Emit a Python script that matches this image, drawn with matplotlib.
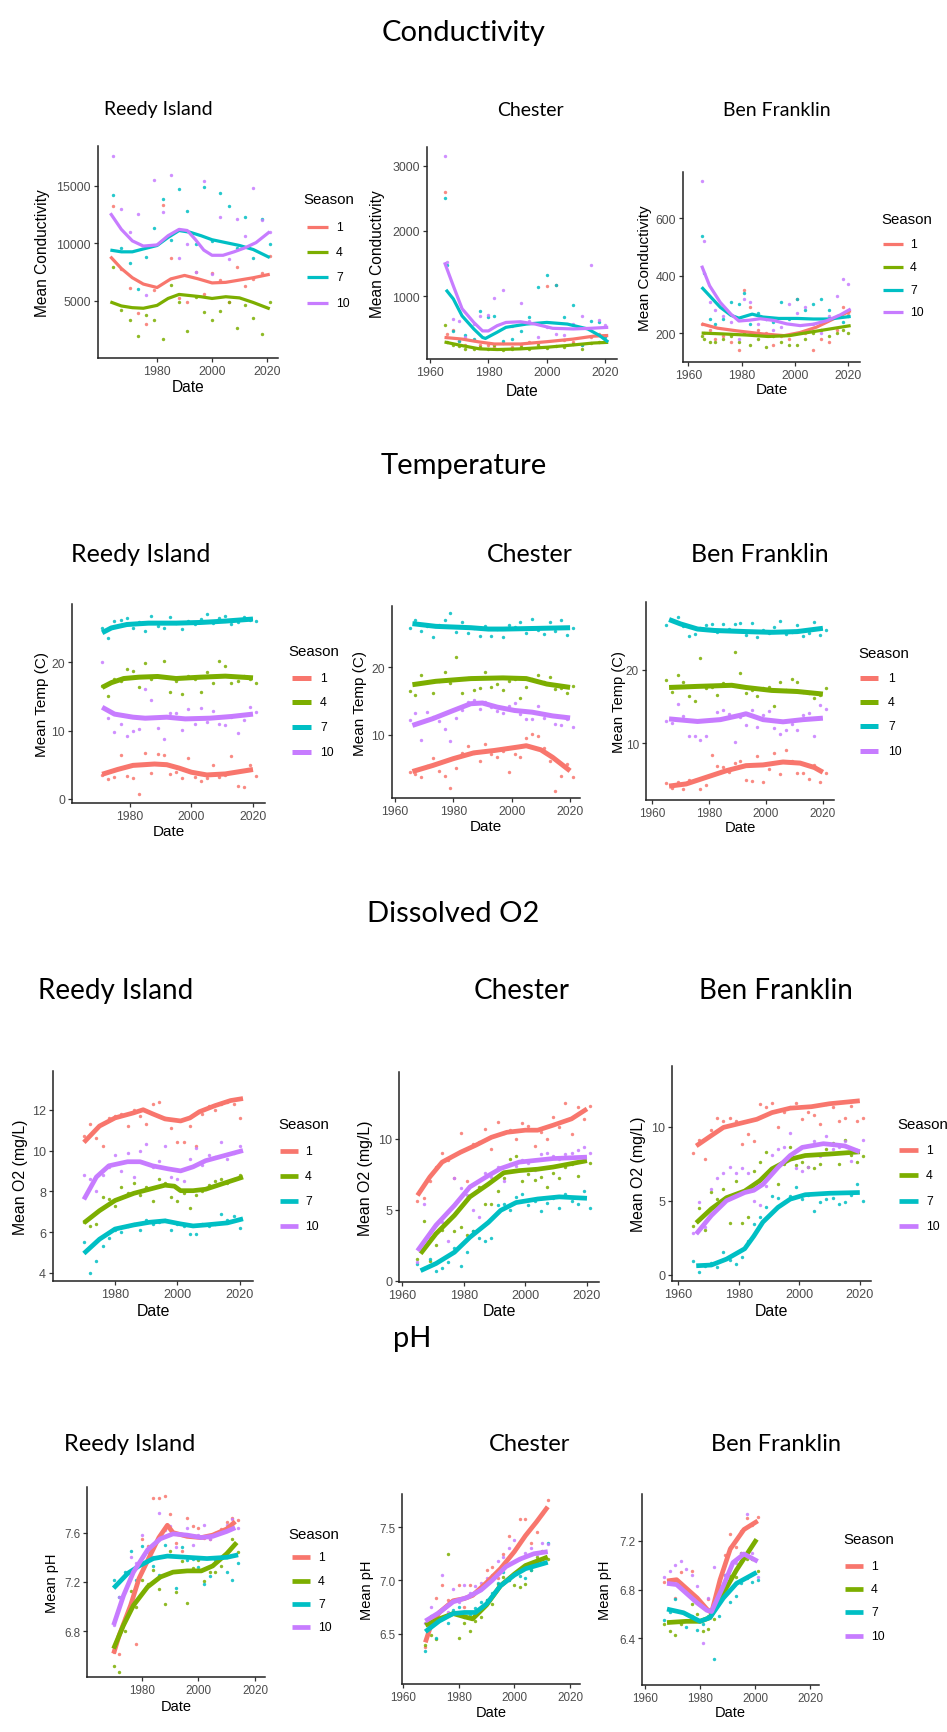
import matplotlib.pyplot as plt
from matplotlib.lines import Line2D

W, H = 947, 1733
seasons = [1, 4, 7, 10]
season_colors = ['#F8766D', '#7CAE00', '#00BFC4', '#C77CFF']

# ---------------- Conductivity ----------------
cond_reedy_fit_x = {
    1: [1963, 1967, 1971, 1975, 1980, 1985, 1990, 1995, 2000, 2005, 2010, 2015, 2021],
    4: [1963, 1967, 1971, 1975, 1980, 1984, 1988, 1992, 1996, 2000, 2005, 2010, 2015, 2021],
    7: [1963, 1967, 1971, 1975, 1980, 1984, 1988, 1992, 1996, 2000, 2005, 2010, 2015, 2021],
    10: [1963, 1967, 1971, 1975, 1980, 1984, 1988, 1991, 1994, 1997, 2000, 2004, 2008, 2012, 2016, 2021],
}
cond_reedy_fit_y = {
    1: [8830, 7800, 7000, 6450, 6150, 6900, 7200, 6900, 6550, 6600, 6800, 7000, 7300],
    4: [4900, 4550, 4400, 4350, 4600, 5200, 5550, 5450, 5350, 5200, 5350, 5250, 4850, 4300],
    7: [9400, 9250, 9250, 9500, 9800, 10500, 11100, 10950, 10650, 10300, 10050, 9800, 9450, 8750],
    10: [12600, 11200, 10200, 9750, 9850, 10650, 11200, 11100, 10300, 9400, 8950, 8950, 9250, 9600, 10050, 11000],
}
cond_reedy_pt_x = [1964, 1967, 1970, 1973, 1976, 1979, 1982, 1985, 1988, 1991,
                   1994, 1997, 2000, 2003, 2006, 2009, 2012, 2015, 2018, 2021]
cond_reedy_pt_y = {
    1: [13200, 7800, 6100, 3900, 3000, 5900, 13300, 8700, 5200, 4900, 7500, 5600, 7400, 6800, 4900, 7900, 6300, 6900, 7400, 8900],
    4: [7900, 4200, 3300, 1900, 3800, 3300, 1700, 6400, 4900, 2400, 5300, 4000, 3300, 4100, 4900, 2600, 4600, 3500, 2100, 4900],
    7: [14200, 9600, 8300, 6000, 8800, 11300, 13800, 10300, 14700, 12800, 9900, 14900, 10200, 14400, 13200, 9600, 12300, 8700, 12100, 9900],
    10: [17600, 13000, 11000, 12500, 5500, 15500, 12700, 15900, 8700, 9900, 7500, 15400, 7300, 12300, 8600, 12100, 10600, 14800, 12000, 11000],
}

cond_chester_fit_x = {
    1: [1965, 1971, 1977, 1982, 1991, 2000, 2009, 2016, 2021],
    4: [1965, 1971, 1977, 1983, 1991, 2000, 2009, 2016, 2021],
    7: [1965.5, 1968, 1971, 1975, 1978, 1979, 1983, 1986, 1993, 2000, 2007, 2014, 2018, 2021],
    10: [1965, 1968, 1971, 1975, 1978, 1980, 1983, 1986, 1991, 1996, 2002, 2009, 2015, 2021],
}
cond_chester_fit_y = {
    1: [370, 345, 300, 270, 270, 305, 345, 390, 400],
    4: [300, 245, 195, 185, 195, 220, 255, 285, 295],
    7: [1100, 960, 700, 500, 370, 355, 450, 525, 575, 600, 575, 500, 400, 300],
    10: [1520, 1160, 810, 600, 470, 470, 550, 600, 610, 575, 510, 500, 510, 525],
}
cond_chester_pt_x = [1965, 1966, 1968, 1970, 1972, 1975, 1977, 1980, 1982, 1985, 1988,
                     1991, 1994, 1997, 2000, 2003, 2006, 2009, 2012, 2015, 2018, 2020]
cond_chester_pt_y = {
    1: [2600, 430, 480, 320, 260, 330, 250, 260, 230, 290, 220, 260, 300, 280, 1160, 1180, 330, 300, 250, 380, 420, 390],
    4: [560, 300, 260, 240, 200, 190, 230, 200, 250, 180, 190, 220, 200, 260, 210, 240, 230, 270, 200, 280, 300, 330],
    7: [2500, 1480, 470, 310, 400, 340, 780, 680, 700, 320, 350, 470, 690, 1140, 1320, 1180, 690, 860, 250, 620, 610, 380],
    10: [3150, 1530, 660, 620, 380, 580, 700, 710, 980, 1090, 550, 900, 620, 370, 530, 420, 410, 580, 700, 1480, 640, 560],
}

cond_benf_fit_x = {
    1: [1965, 1971, 1978, 1988, 1996, 2002, 2008, 2014, 2021],
    4: [1965, 1973, 1982, 1990, 1998, 2005, 2013, 2021],
    7: [1965, 1968, 1972, 1976, 1979, 1984, 1988, 1994, 2001, 2007, 2013, 2021],
    10: [1965, 1968, 1972, 1976, 1979, 1983, 1987, 1992, 1997, 2002, 2007, 2012, 2017, 2021],
}
cond_benf_fit_y = {
    1: [232, 217, 208, 197, 191, 202, 220, 247, 278],
    4: [200, 197, 193, 188, 191, 202, 214, 226],
    7: [360, 330, 290, 262, 252, 266, 256, 251, 251, 249, 249, 258],
    10: [435, 365, 307, 266, 242, 245, 250, 244, 232, 226, 231, 243, 263, 284],
}
cond_benf_pt_x = [1965, 1966, 1968, 1970, 1973, 1976, 1979, 1981, 1983, 1986, 1989,
                  1992, 1995, 1998, 2001, 2004, 2007, 2010, 2013, 2016, 2018, 2020]
cond_benf_pt_y = {
    1: [230, 200, 210, 180, 190, 170, 140, 350, 290, 210, 200, 160, 190, 180, 320, 200, 140, 180, 170, 210, 290, 270],
    4: [190, 180, 170, 170, 180, 190, 170, 200, 160, 180, 150, 190, 170, 160, 160, 180, 200, 210, 190, 200, 210, 200],
    7: [540, 410, 250, 230, 250, 310, 300, 340, 230, 270, 250, 240, 310, 250, 320, 280, 300, 320, 280, 260, 240, 260],
    10: [730, 520, 310, 280, 260, 240, 180, 320, 310, 230, 250, 210, 220, 300, 270, 290, 230, 200, 260, 330, 390, 370],
}

# ---------------- Temperature ----------------
temp_reedy_fit_x = {
    1: [1971, 1976, 1981, 1988, 1992, 1996, 2000, 2005, 2011, 2020],
    4: [1971, 1974, 1978, 1983, 1989, 1995, 2003, 2011, 2020],
    7: [1971, 1974, 1979, 1986, 1995, 2003, 2011, 2020],
    10: [1971, 1975, 1981, 1985, 1992, 1998, 2006, 2013, 2020],
}
temp_reedy_fit_y = {
    1: [3.6, 4.3, 4.9, 5.1, 5.0, 4.5, 3.9, 3.5, 3.65, 4.3],
    4: [16.3, 17.0, 17.6, 17.8, 17.9, 17.6, 17.8, 17.95, 17.7],
    7: [24.3, 25.0, 25.5, 25.7, 25.7, 25.8, 26.0, 26.3],
    10: [13.4, 12.4, 11.95, 11.8, 11.95, 11.7, 11.8, 12.05, 12.4],
}
temp_reedy_pt_x = [1971, 1973, 1975, 1977, 1979, 1981, 1983, 1985, 1987, 1989, 1991, 1993, 1995,
                   1997, 1999, 2001, 2003, 2005, 2007, 2009, 2011, 2013, 2015, 2017, 2019, 2021]
temp_reedy_pt_y = {
    1: [3.5, 2.9, 3.2, 6.4, 3.3, 3.0, 0.7, 6.7, 3.8, 6.6, 6.4, 3.7, 3.9, 3.1, 6.0, 3.2, 2.6, 3.0, 4.9, 3.2, 3.5, 6.2, 1.9, 1.8, 5.0, 3.4],
    4: [16.5, 15.1, 17.5, 17.3, 19.0, 18.7, 16.3, 19.8, 17.5, 17.9, 20.1, 15.6, 17.2, 15.4, 18.0, 17.6, 15.6, 18.5, 17.0, 20.2, 19.4, 17.0, 17.3, 18.0, 17.5, 16.9],
    7: [25.0, 23.6, 26.0, 26.2, 26.5, 25.0, 25.9, 24.6, 26.7, 25.3, 25.0, 26.6, 25.7, 24.9, 26.0, 25.6, 26.3, 27.1, 25.7, 26.4, 26.7, 25.6, 25.8, 26.6, 26.1, 26.0],
    10: [20.0, 11.9, 9.8, 10.9, 9.2, 10.0, 10.2, 16.0, 14.4, 10.4, 8.8, 12.6, 12.5, 10.1, 13.1, 11.0, 13.3, 11.3, 12.8, 11.0, 10.8, 12.0, 9.6, 11.6, 13.4, 12.7],
}

temp_chester_fit_x = {
    1: [1966, 1973, 1980, 1987, 1994, 2002, 2005, 2010, 2014, 2020],
    4: [1966, 1974, 1986, 1997, 2005, 2012, 2020],
    7: [1966, 1974, 1986, 1992, 1997, 2009, 2020],
    10: [1966, 1973, 1980, 1986, 1990, 1995, 2001, 2007, 2014, 2020],
}
temp_chester_fit_y = {
    1: [4.6, 5.5, 6.5, 7.35, 7.7, 8.2, 8.4, 7.8, 6.7, 4.7],
    4: [17.4, 17.9, 18.3, 18.4, 18.3, 17.5, 17.0],
    7: [26.4, 26.0, 25.8, 25.6, 25.6, 25.7, 25.8],
    10: [11.4, 12.4, 13.6, 14.6, 14.7, 14.1, 13.6, 13.35, 12.8, 12.5],
}
temp_chester_pt_x = [1965, 1967, 1969, 1971, 1973, 1975, 1977, 1979, 1981, 1983, 1985, 1987, 1989, 1991, 1993,
                     1995, 1997, 1999, 2001, 2003, 2005, 2007, 2009, 2011, 2013, 2015, 2017, 2019, 2021]
temp_chester_pt_y = {
    1: [4.5, 4.3, 3.8, 5.4, 6.6, 4.7, 3.9, 2.2, 5.1, 7.3, 8.4, 7.3, 6.2, 8.6, 7.2, 6.8, 7.6, 4.6, 7.2, 6.7, 9.6, 10.2, 9.8, 8.0, 6.1, 1.8, 4.0, 5.7, 3.8],
    4: [16.5, 15.9, 18.8, 17.8, 16.2, 17.9, 19.3, 17.6, 21.5, 16.2, 18.4, 16.6, 16.9, 19.3, 17.0, 17.5, 16.6, 18.0, 18.3, 15.5, 17.0, 18.3, 18.8, 17.8, 18.6, 16.8, 16.9, 16.2, 17.2],
    7: [25.8, 26.9, 25.3, 26.0, 24.4, 26.2, 27.0, 28.0, 25.1, 26.7, 25.0, 25.7, 24.6, 26.1, 24.6, 25.6, 24.4, 26.2, 25.9, 26.6, 25.0, 27.1, 25.4, 24.9, 26.6, 25.3, 26.9, 24.7, 25.7],
    10: [12.2, 13.2, 9.3, 13.4, 12.7, 12.0, 10.9, 9.1, 12.5, 13.6, 14.9, 15.2, 13.8, 14.9, 14.1, 13.5, 13.2, 14.2, 14.7, 13.1, 12.4, 12.3, 14.2, 12.5, 13.0, 11.6, 11.5, 12.4, 11.2],
}

temp_benf_fit_x = {
    1: [1966, 1972, 1979, 1986, 1993, 1999, 2006, 2012, 2017, 2020],
    4: [1966, 1976, 1988, 1993, 2002, 2011, 2020],
    7: [1966, 1970, 1976, 1982, 1993, 2002, 2011, 2020],
    10: [1966, 1976, 1984, 1991, 1993, 1999, 2006, 2013, 2020],
}
temp_benf_fit_y = {
    1: [4.1, 4.4, 5.3, 6.2, 6.9, 7.0, 7.4, 7.25, 6.65, 6.0],
    4: [17.6, 17.75, 17.9, 17.6, 17.2, 17.05, 16.7],
    7: [26.9, 26.3, 25.6, 25.4, 25.25, 25.15, 25.25, 25.7],
    10: [13.3, 12.95, 13.2, 13.8, 14.0, 13.2, 12.9, 13.2, 13.4],
}
temp_benf_pt_x = [1965, 1967, 1969, 1971, 1973, 1975, 1977, 1979, 1981, 1983, 1985, 1987, 1989, 1991, 1993,
                  1995, 1997, 1999, 2001, 2003, 2005, 2007, 2009, 2011, 2013, 2015, 2017, 2019, 2021]
temp_benf_pt_y = {
    1: [4.5, 3.8, 4.7, 3.7, 5.0, 4.9, 3.7, 4.2, 8.3, 6.9, 6.7, 6.0, 7.3, 7.5, 5.0, 4.8, 8.2, 4.6, 6.4, 8.7, 5.8, 9.1, 7.5, 5.9, 5.9, 5.1, 7.0, 4.7, 5.9],
    4: [18.6, 17.0, 19.3, 18.3, 16.5, 15.7, 21.6, 17.5, 17.7, 16.6, 18.2, 17.9, 22.5, 19.6, 16.9, 17.2, 16.5, 17.5, 17.7, 15.1, 18.3, 17.3, 18.8, 18.3, 17.0, 16.8, 16.2, 16.6, 17.5],
    7: [26.2, 26.8, 27.2, 26.0, 24.6, 24.9, 25.8, 26.2, 26.3, 25.2, 26.3, 25.6, 26.3, 26.4, 24.8, 26.4, 24.5, 25.5, 25.1, 25.9, 26.7, 24.9, 25.2, 26.2, 24.6, 25.1, 26.5, 24.8, 25.5],
    10: [13.0, 12.8, 15.3, 13.7, 11.0, 11.0, 10.4, 11.0, 13.1, 14.2, 14.5, 14.0, 10.1, 13.6, 12.5, 14.5, 12.2, 13.9, 14.4, 12.1, 11.3, 11.8, 12.6, 11.8, 13.8, 14.1, 11.0, 15.2, 14.6],
}

# ---------------- Dissolved O2 ----------------
do_reedy_fit_x = {
    1: [1970, 1975, 1980, 1986, 1989, 1992, 1996, 2001, 2004, 2007, 2012, 2017, 2021],
    4: [1970, 1975, 1980, 1986, 1991, 1996, 1999, 2001, 2005, 2009, 2016, 2021],
    7: [1970, 1975, 1980, 1986, 1991, 1996, 2001, 2005, 2009, 2016, 2021],
    10: [1970, 1974, 1978, 1984, 1988, 1992, 1997, 2001, 2005, 2009, 2015, 2021],
}
do_reedy_fit_y = {
    1: [10.4, 11.2, 11.6, 11.85, 12.0, 11.8, 11.55, 11.45, 11.6, 11.9, 12.2, 12.45, 12.55],
    4: [6.45, 7.05, 7.55, 7.9, 8.1, 8.3, 8.25, 8.03, 8.03, 8.1, 8.45, 8.7],
    7: [4.95, 5.65, 6.15, 6.35, 6.48, 6.55, 6.4, 6.3, 6.35, 6.45, 6.65],
    10: [7.6, 8.7, 9.25, 9.45, 9.45, 9.25, 9.1, 9.0, 9.2, 9.5, 9.75, 10.0],
}
do_reedy_pt_x = [1970, 1972, 1974, 1976, 1978, 1980, 1982, 1984, 1986, 1988, 1990, 1992, 1994,
                 1996, 1998, 2000, 2002, 2004, 2006, 2008, 2010, 2012, 2014, 2016, 2018, 2020]
do_reedy_pt_y = {
    1: [10.7, 11.3, 10.6, 10.2, 11.6, 11.7, 11.8, 11.2, 12.0, 11.7, 11.3, 12.3, 12.4, 11.6, 11.1, 10.4, 10.4, 11.2, 10.2, 11.8, 12.2, 12.0, 12.3, 12.4, 12.3, 11.6],
    4: [6.5, 6.3, 6.4, 7.7, 7.6, 7.3, 8.2, 7.9, 8.4, 7.8, 8.2, 7.5, 8.6, 8.4, 7.7, 7.5, 7.9, 7.2, 7.8, 8.0, 8.3, 8.5, 8.6, 8.4, 8.6, 8.8],
    7: [5.5, 4.0, 4.6, 5.3, 5.7, 6.1, 6.0, 6.3, 6.4, 6.1, 6.6, 6.4, 6.5, 6.6, 6.1, 6.4, 6.3, 5.9, 5.9, 6.4, 6.3, 6.4, 6.9, 6.6, 6.8, 6.2],
    10: [8.8, 8.6, 8.0, 8.8, 9.2, 9.8, 9.0, 9.9, 8.7, 10.0, 10.3, 9.2, 9.5, 10.2, 8.7, 8.6, 8.5, 9.6, 10.1, 9.3, 9.8, 9.7, 10.4, 9.6, 9.9, 10.2],
}

do_chester_fit_x = {
    1: [1965, 1969, 1973, 1979, 1984, 1989, 1994, 2000, 2004, 2009, 2015, 2020],
    4: [1966, 1971, 1977, 1982, 1988, 1993, 1998, 2004, 2009, 2020],
    7: [1966, 1971, 1977, 1982, 1988, 1992, 1997, 2004, 2011, 2020],
    10: [1965, 1971, 1977, 1982, 1988, 1992, 1998, 2009, 2020],
}
do_chester_fit_y = {
    1: [6.0, 7.3, 8.35, 9.05, 9.55, 10.1, 10.45, 10.6, 10.6, 10.95, 11.4, 12.1],
    4: [1.9, 3.3, 4.6, 5.9, 6.8, 7.6, 7.75, 7.85, 8.0, 8.45],
    7: [0.7, 1.2, 2.0, 3.05, 4.1, 4.95, 5.5, 5.75, 5.9, 5.8],
    10: [2.1, 3.9, 5.3, 6.6, 7.4, 7.9, 8.35, 8.6, 8.7],
}
do_chester_pt_x = [1965, 1967, 1969, 1971, 1973, 1975, 1977, 1979, 1981, 1983, 1985, 1987, 1989, 1991, 1993,
                   1995, 1997, 1999, 2001, 2003, 2005, 2007, 2009, 2011, 2013, 2015, 2017, 2019, 2021]
do_chester_pt_y = {
    1: [5.6, 5.8, 7.0, 8.0, 9.0, 8.5, 7.2, 10.4, 7.0, 9.6, 9.8, 10.7, 9.3, 11.2, 10.4, 10.6, 10.0, 11.1, 10.9, 9.5, 10.5, 10.0, 11.5, 10.8, 12.5, 10.3, 12.2, 11.4, 12.3],
    4: [1.5, 4.2, 1.4, 2.5, 3.6, 4.3, 3.5, 3.8, 3.2, 3.5, 6.6, 5.4, 5.4, 6.3, 7.2, 8.6, 8.8, 7.0, 7.5, 7.1, 7.3, 6.6, 7.6, 7.2, 8.0, 8.2, 7.4, 8.6, 8.3],
    7: [1.2, 0.9, 1.5, 0.7, 0.9, 1.3, 2.3, 1.0, 2.0, 3.5, 3.0, 2.8, 3.0, 5.3, 5.4, 5.0, 5.9, 6.1, 5.3, 5.6, 4.9, 5.5, 5.8, 5.1, 6.1, 5.6, 5.4, 6.3, 5.1],
    10: [1.3, 5.4, 3.0, 3.9, 4.1, 2.8, 7.2, 6.5, 6.0, 5.0, 4.5, 7.6, 7.3, 8.0, 7.0, 8.2, 8.1, 8.5, 8.3, 7.8, 8.9, 9.0, 8.8, 8.6, 8.9, 9.0, 9.2, 9.4, 9.0],
}

do_benf_fit_x = {
    1: [1966, 1971, 1975, 1980, 1986, 1991, 1997, 2004, 2010, 2020],
    4: [1966, 1971, 1976, 1982, 1987, 1991, 1997, 2002, 2010, 2020],
    7: [1966, 1971, 1976, 1982, 1985, 1988, 1993, 1997, 2002, 2010, 2020],
    10: [1966, 1971, 1976, 1982, 1985, 1988, 1993, 1997, 2001, 2008, 2015, 2020],
}
do_benf_fit_y = {
    1: [8.7, 9.4, 9.95, 10.2, 10.5, 10.95, 11.25, 11.35, 11.55, 11.75],
    4: [3.5, 4.45, 5.2, 5.65, 6.35, 7.15, 7.8, 8.05, 8.15, 8.3],
    7: [0.6, 0.65, 1.05, 1.75, 2.6, 3.55, 4.55, 5.1, 5.4, 5.5, 5.55],
    10: [2.75, 4.0, 5.0, 5.55, 5.7, 6.1, 7.25, 8.05, 8.6, 8.85, 8.7, 8.3],
}
do_benf_pt_x = [1965, 1967, 1969, 1971, 1973, 1975, 1977, 1979, 1981, 1983, 1985, 1987, 1989, 1991, 1993,
                1995, 1997, 1999, 2001, 2003, 2005, 2007, 2009, 2011, 2013, 2015, 2017, 2019, 2021]
do_benf_pt_y = {
    1: [8.2, 9.1, 7.8, 9.8, 10.6, 10.4, 10.6, 10.4, 8.8, 9.5, 9.0, 11.5, 11.3, 11.6, 10.0, 11.0, 11.3, 11.6, 10.5, 11.0, 10.8, 10.2, 11.5, 11.3, 10.4, 10.6, 11.4, 10.4, 10.6],
    4: [3.3, 4.5, 3.0, 5.6, 5.1, 5.8, 3.5, 6.3, 3.5, 3.9, 7.0, 7.6, 8.3, 7.0, 6.1, 7.5, 8.6, 7.4, 7.6, 7.3, 7.2, 7.5, 8.5, 8.9, 7.5, 9.1, 8.1, 7.6, 8.0],
    7: [0.9, 0.2, 0.6, 0.8, 0.5, 1.5, 1.0, 0.7, 1.2, 2.3, 3.4, 3.9, 4.6, 5.3, 5.2, 4.9, 5.3, 5.9, 5.1, 5.4, 4.3, 4.9, 5.1, 5.2, 4.8, 4.9, 5.4, 6.1, 5.0],
    10: [2.8, 4.9, 3.2, 5.8, 6.5, 6.9, 7.3, 6.9, 7.2, 6.9, 5.0, 4.7, 6.0, 8.1, 8.5, 8.6, 9.6, 7.2, 7.0, 7.3, 9.0, 8.0, 9.4, 8.5, 8.6, 9.0, 7.7, 8.4, 9.1],
}

# ---------------- pH ----------------
ph_reedy_fit_x = {
    1: [1970, 1972, 1976, 1979, 1983, 1986, 1989, 1991, 1996, 2001, 2005, 2010, 2013],
    4: [1970, 1973.5, 1977, 1982, 1986.5, 1991, 1996, 2001, 2005, 2010, 2013.5],
    7: [1970, 1975, 1979, 1984, 1989, 1996, 2003, 2010, 2014],
    10: [1970, 1973.5, 1977, 1982, 1986.5, 1991, 1996, 2001, 2005, 2010, 2013],
}
ph_reedy_fit_y = {
    1: [6.62, 6.77, 7.01, 7.23, 7.42, 7.56, 7.66, 7.6, 7.57, 7.56, 7.58, 7.63, 7.69],
    4: [6.66, 6.85, 7.01, 7.16, 7.24, 7.28, 7.29, 7.29, 7.33, 7.43, 7.52],
    7: [7.15, 7.27, 7.33, 7.39, 7.41, 7.40, 7.39, 7.40, 7.42],
    10: [6.85, 7.09, 7.28, 7.46, 7.55, 7.59, 7.58, 7.56, 7.57, 7.61, 7.64],
}
ph_reedy_pt_x = [1970, 1972, 1974, 1976, 1978, 1980, 1982, 1984, 1986, 1988, 1990, 1992,
                 1994, 1996, 1998, 2000, 2002, 2004, 2006, 2008, 2010, 2012, 2014]
ph_reedy_pt_y = {
    1: [6.63, 6.62, 6.92, 7.26, 6.70, 7.55, 7.49, 7.88, 7.88, 7.90, 7.75, 7.52, 7.45, 7.72, 7.65, 7.64, 7.56, 7.55, 7.60, 7.63, 7.69, 7.72, 7.70],
    4: [6.52, 6.47, 6.80, 7.13, 7.00, 7.22, 7.18, 7.30, 7.14, 7.02, 7.45, 7.12, 7.37, 7.03, 7.31, 7.38, 7.21, 7.28, 7.28, 7.33, 7.40, 7.55, 7.44],
    7: [7.22, 7.08, 7.28, 7.45, 7.22, 7.49, 7.47, 7.33, 7.26, 7.50, 7.42, 7.15, 7.48, 7.38, 7.39, 7.32, 7.18, 7.25, 7.38, 7.40, 7.28, 7.22, 7.35],
    10: [6.85, 7.08, 7.26, 7.40, 7.35, 7.58, 7.44, 7.40, 7.76, 7.62, 7.65, 7.48, 7.58, 7.64, 7.50, 7.58, 7.66, 7.55, 7.60, 7.62, 7.66, 7.71, 7.64],
}

ph_chester_fit_x = {
    1: [1968, 1970, 1973, 1978, 1982, 1985, 1990, 1995, 2000, 2004, 2008, 2012],
    4: [1968, 1973, 1978, 1982, 1985, 1990, 1995, 2000, 2004, 2012],
    7: [1968, 1973, 1978, 1982, 1986, 1990, 1995, 2000, 2004, 2012],
    10: [1968, 1973, 1978, 1983, 1988, 1992, 1997, 2002, 2007, 2012],
}
ph_chester_fit_y = {
    1: [6.42, 6.58, 6.70, 6.81, 6.83, 6.86, 6.98, 7.11, 7.27, 7.42, 7.55, 7.69],
    4: [6.58, 6.64, 6.69, 6.66, 6.64, 6.77, 6.95, 7.06, 7.14, 7.22],
    7: [6.52, 6.62, 6.69, 6.70, 6.70, 6.78, 6.95, 7.05, 7.11, 7.17],
    10: [6.62, 6.70, 6.80, 6.84, 6.91, 7.0, 7.13, 7.2, 7.25, 7.27],
}
ph_chester_pt_x = [1968, 1970, 1972, 1974, 1976, 1978, 1980, 1982, 1984, 1986, 1988, 1990,
                   1992, 1994, 1996, 1998, 2000, 2002, 2004, 2006, 2008, 2010, 2012]
ph_chester_pt_y = {
    1: [6.38, 6.62, 6.84, 6.96, 6.82, 6.81, 6.96, 6.75, 6.96, 6.88, 6.92, 7.10, 7.13, 7.02, 7.25, 7.42, 7.28, 7.58, 7.58, 7.35, 7.45, 7.62, 7.75],
    4: [6.40, 6.49, 6.45, 6.72, 7.25, 6.70, 6.46, 6.60, 6.53, 6.62, 6.66, 6.82, 6.78, 6.97, 7.03, 7.00, 6.96, 6.94, 6.97, 7.10, 7.22, 7.28, 7.20],
    7: [6.34, 6.67, 6.46, 6.64, 6.60, 6.72, 6.75, 6.66, 6.68, 6.74, 6.80, 6.82, 6.88, 6.98, 7.08, 7.00, 7.06, 7.04, 7.02, 7.10, 7.15, 7.20, 7.35],
    10: [6.60, 6.75, 6.64, 7.05, 6.70, 6.92, 6.80, 6.96, 6.88, 6.95, 6.98, 7.02, 7.05, 7.18, 7.22, 7.30, 7.38, 7.20, 7.26, 7.30, 7.25, 7.35, 7.34],
}

ph_benf_fit_x = {
    1: [1968, 1971.5, 1975, 1979, 1982.5, 1984.2, 1987.3, 1991, 1996, 2001],
    4: [1968, 1975, 1980, 1983.6, 1988.5, 1993.3, 2000.6],
    7: [1968, 1974, 1980, 1983.6, 1988.5, 1993.3, 2000.6],
    10: [1968, 1971.5, 1975, 1979, 1982.5, 1984.2, 1988.5, 1992, 1996, 2001],
}
ph_benf_fit_y = {
    1: [6.87, 6.88, 6.81, 6.73, 6.64, 6.61, 6.88, 7.13, 7.29, 7.36],
    4: [6.53, 6.54, 6.54, 6.57, 6.77, 6.96, 7.21],
    7: [6.64, 6.61, 6.54, 6.57, 6.73, 6.85, 6.94],
    10: [6.85, 6.84, 6.77, 6.69, 6.63, 6.62, 6.83, 7.02, 7.09, 7.03],
}
ph_benf_pt_x = [1967, 1969, 1971, 1973, 1975, 1977, 1979, 1981, 1983, 1985, 1987, 1989,
                1991, 1993, 1995, 1997, 1999, 2001]
ph_benf_pt_y = {
    1: [6.86, 6.88, 6.73, 6.94, 6.78, 6.95, 6.70, 6.55, 6.72, 6.64, 6.75, 7.08, 7.25, 7.15, 7.28, 7.38, 7.33, 7.39],
    4: [6.52, 6.46, 6.43, 6.52, 6.60, 6.68, 6.60, 6.46, 6.48, 6.56, 6.76, 6.82, 6.91, 6.90, 7.10, 7.05, 7.05, 6.95],
    7: [6.55, 6.62, 6.72, 6.85, 6.49, 6.58, 6.47, 6.52, 6.58, 6.23, 6.58, 6.92, 6.70, 6.75, 6.85, 6.89, 6.86, 6.88],
    10: [6.90, 6.95, 7.00, 7.03, 6.97, 6.92, 6.83, 6.36, 6.73, 6.98, 6.82, 6.92, 7.15, 7.02, 7.10, 7.42, 7.10, 6.90],
}

yrs_full = [1960, 1980, 2000, 2020]
yrs_short = [1980, 2000, 2020]

# layout in pixels of the 947x1733 image: box = left, right, top, bottom
# leg = title-left x, title y, key x0, key x1, label x, entry y's
panels = [
    dict(box=(98, 278, 147, 359), xlim=(1958.5, 2024), ylim=(30, 18440), xt=yrs_short, yt=[5000, 10000, 15000],
         ylab='Mean Conductivity', ylab_x=42, date_y=388, fx=cond_reedy_fit_x, fy=cond_reedy_fit_y,
         px=cond_reedy_pt_x, py=cond_reedy_pt_y, lw=2.3, fs=11.2,
         leg=(303, 200, 307, 328, 336, [228, 253, 278, 304])),
    dict(box=(427, 617, 148, 360), xlim=(1959, 2024), ylim=(40, 3286), xt=yrs_full, yt=[1000, 2000, 3000],
         ylab='Mean Conductivity', ylab_x=377, date_y=392, fx=cond_chester_fit_x, fy=cond_chester_fit_y,
         px=cond_chester_pt_x, py=cond_chester_pt_y, lw=2.3, fs=11.2, leg=None),
    dict(box=(683, 860, 173, 363), xlim=(1958, 2024.5), ylim=(99, 762), xt=yrs_full, yt=[200, 400, 600],
         ylab='Mean Conductivity', ylab_x=645, date_y=390, fx=cond_benf_fit_x, fy=cond_benf_fit_y,
         px=cond_benf_pt_x, py=cond_benf_pt_y, lw=2.3, fs=11.0,
         leg=(881, 220, 883, 903, 910, [245, 268, 291, 313])),
    dict(box=(72, 265, 605, 804), xlim=(1961.2, 2023.9), ylim=(-0.6, 28.5), xt=yrs_short, yt=[0, 10, 20],
         ylab='Mean Temp (C)', ylab_x=42, date_y=832, fx=temp_reedy_fit_x, fy=temp_reedy_fit_y,
         px=temp_reedy_pt_x, py=temp_reedy_pt_y, lw=3.6, fs=11.0,
         leg=(288, 652, 292, 311, 320, [679, 703, 728, 753])),
    dict(box=(392, 580, 607, 799), xlim=(1959, 2023.4), ylim=(0.7, 29), xt=yrs_full, yt=[10, 20],
         ylab='Mean Temp (C)', ylab_x=360, date_y=827, fx=temp_chester_fit_x, fy=temp_chester_fit_y,
         px=temp_chester_pt_x, py=temp_chester_pt_y, lw=3.6, fs=11.0, leg=None),
    dict(box=(646, 834, 603, 801), xlim=(1957.9, 2023.9), ylim=(2.2, 29.3), xt=yrs_full, yt=[10, 20],
         ylab='Mean Temp (C)', ylab_x=619, date_y=828, fx=temp_benf_fit_x, fy=temp_benf_fit_y,
         px=temp_benf_pt_x, py=temp_benf_pt_y, lw=3.6, fs=10.6,
         leg=(858, 654, 860, 878, 888, [679, 703, 727, 752])),
    dict(box=(53, 253, 1072, 1282), xlim=(1960.1, 2024.2), ylim=(3.6, 13.9), xt=yrs_short, yt=[4, 6, 8, 10, 12],
         ylab='Mean O2 (mg/L)', ylab_x=20, date_y=1312, fx=do_reedy_fit_x, fy=do_reedy_fit_y,
         px=do_reedy_pt_x, py=do_reedy_pt_y, lw=3.4, fs=11.4,
         leg=(278, 1125, 280, 298, 305, [1152, 1177, 1202, 1227])),
    dict(box=(399, 599, 1073, 1283), xlim=(1959, 2023.9), ylim=(-0.1, 14.7), xt=yrs_full, yt=[0, 5, 10],
         ylab='Mean O2 (mg/L)', ylab_x=365, date_y=1312, fx=do_chester_fit_x, fy=do_chester_fit_y,
         px=do_chester_pt_x, py=do_chester_pt_y, lw=3.4, fs=11.4, leg=None),
    dict(box=(672, 871, 1067, 1282), xlim=(1958, 2023.7), ylim=(-0.43, 14.1), xt=yrs_full, yt=[0, 5, 10],
         ylab='Mean O2 (mg/L)', ylab_x=638, date_y=1312, fx=do_benf_fit_x, fy=do_benf_fit_y,
         px=do_benf_pt_x, py=do_benf_pt_y, lw=3.4, fs=11.4,
         leg=(897, 1125, 899, 918, 926, [1151, 1176, 1202, 1227])),
    dict(box=(87, 265, 1488, 1678), xlim=(1960.6, 2023.5), ylim=(6.43, 7.97), xt=yrs_short, yt=[6.8, 7.2, 7.6],
         ylab='Mean pH', ylab_x=52, date_y=1707, fx=ph_reedy_fit_x, fy=ph_reedy_fit_y,
         px=ph_reedy_pt_x, py=ph_reedy_pt_y, lw=3.4, fs=10.5,
         leg=(288, 1535, 292, 310, 318, [1558, 1582, 1605, 1628])),
    dict(box=(402, 580, 1495, 1685), xlim=(1959.6, 2023.6), ylim=(6.03, 7.81), xt=yrs_full, yt=[6.5, 7.0, 7.5],
         ylab='Mean pH', ylab_x=367, date_y=1713, fx=ph_chester_fit_x, fy=ph_chester_fit_y,
         px=ph_chester_pt_x, py=ph_chester_pt_y, lw=3.4, fs=10.5, leg=None),
    dict(box=(642, 819, 1495, 1686), xlim=(1958.9, 2023.3), ylim=(6.02, 7.58), xt=yrs_full, yt=[6.4, 6.8, 7.2],
         ylab='Mean pH', ylab_x=605, date_y=1713, fx=ph_benf_fit_x, fy=ph_benf_fit_y,
         px=ph_benf_pt_x, py=ph_benf_pt_y, lw=3.4, fs=10.5,
         leg=(843, 1540, 845, 863, 871, [1567, 1590, 1613, 1637])),
]

section_titles = [('Conductivity', 464, 33), ('Temperature', 464, 466),
                  ('Dissolved O2', 453, 914), ('pH', 412, 1339)]
site_names = ['Reedy Island', 'Chester', 'Ben Franklin']
site_rows = [(110, [158, 530, 777], 14), (555, [141, 530, 760], 18),
             (991, [116, 522, 776], 20), (1445, [130, 530, 776], 17)]

plt.rcParams['font.family'] = ['Liberation Sans', 'DejaVu Sans']

fig = plt.figure(figsize=(W / 100, H / 100), dpi=100)
fig.patch.set_facecolor('white')


def fx(x):
    return x / W


def fy(y):
    return 1 - y / H


for p in panels:
    l, r, t, b = p['box']
    ax = fig.add_axes([fx(l), fy(b), (r - l) / W, (b - t) / H])
    for k, c in zip(seasons, season_colors):
        ax.scatter(p['px'], p['py'][k], s=6, color=c, linewidths=0, alpha=0.85, zorder=2)
    for k, c in zip(seasons, season_colors):
        ax.plot(p['fx'][k], p['fy'][k], color=c, lw=p['lw'], solid_joinstyle='round',
                solid_capstyle='butt', zorder=3)
    ax.set_xlim(p['xlim'])
    ax.set_ylim(p['ylim'])
    ax.set_xticks(p['xt'])
    ax.set_yticks(p['yt'])
    if p['ylab'] == 'Mean pH':
        ax.set_yticklabels(['%.1f' % v for v in p['yt']])
    for s in ['top', 'right']:
        ax.spines[s].set_visible(False)
    for s in ['left', 'bottom']:
        ax.spines[s].set_linewidth(1.1)
        ax.spines[s].set_color('#222222')
    ax.tick_params(length=3, width=0.9, color='#333333', labelcolor='#4D4D4D',
                   labelsize=p['fs'] * 0.8, pad=2)
    fig.text(fx(p['ylab_x']), fy((t + b) / 2), p['ylab'], rotation=90,
             ha='center', va='center', fontsize=p['fs'], color='black')
    fig.text(fx((l + r) / 2), fy(p['date_y']), 'Date',
             ha='center', va='center', fontsize=p['fs'], color='black')

    # legend (ggplot style, drawn at the right of the panel)
    if p['leg']:
        tx, ty, k0, k1, lx, ys = p['leg']
        fig.text(fx(tx), fy(ty), 'Season', ha='left', va='center', fontsize=10.8, color='black')
        for k, c, y in zip(seasons, season_colors, ys):
            fig.add_artist(Line2D([fx(k0), fx(k1)], [fy(y), fy(y)], color=c, lw=p['lw'],
                                  solid_capstyle='butt', transform=fig.transFigure))
            fig.text(fx(lx), fy(y), str(k), ha='left', va='center', fontsize=8.8, color='black')

for txt, x, y in section_titles:
    fig.text(fx(x), fy(y), txt, ha='center', va='center', fontsize=21, family='Lato')
for y, xs, fsz in site_rows:
    for name, x in zip(site_names, xs):
        fig.text(fx(x), fy(y), name, ha='center', va='center', fontsize=fsz, family='Lato')

fig.savefig('out.png', dpi=100)
